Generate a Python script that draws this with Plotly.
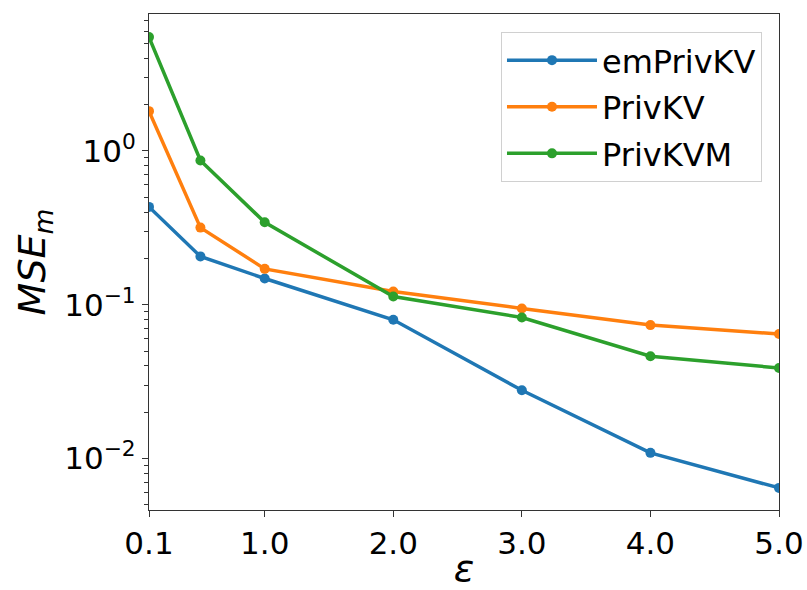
import plotly.graph_objects as go

eps = [0.1, 0.5, 1.0, 2.0, 3.0, 4.0, 5.0]
em_privkv = [0.432, 0.206, 0.148, 0.0798, 0.0278, 0.0109, 0.00645]
privkv = [1.81, 0.317, 0.171, 0.122, 0.0946, 0.0737, 0.0645]
privkvm = [5.48, 0.865, 0.343, 0.113, 0.0826, 0.0463, 0.0388]

x_ticks = [0.1, 1.0, 2.0, 3.0, 4.0, 5.0]
x_ticktext = ["0.1", "1.0", "2.0", "3.0", "4.0", "5.0"]
y_ticks = [1, 0.1, 0.01]
y_ticktext = ["10<sup>0</sup>", "10<sup>−1</sup>", "10<sup>−2</sup>"]
y_minor = [m * 10.0 ** k for k in (-3, -2, -1, 0) for m in range(2, 10)]

series = [
    ("emPrivKV", em_privkv, "#1f77b4"),
    ("PrivKV", privkv, "#ff7f0e"),
    ("PrivKVM", privkvm, "#2ca02c"),
]

fig = go.Figure()
for name, vals, col in series:
    fig.add_trace(go.Scatter(
        x=eps, y=vals, name=name, mode="lines+markers", legendgroup=name,
        line=dict(color=col, width=3.5),
        marker=dict(color=col, size=10),
    ))

font = "DejaVu Sans"
fig.update_layout(
    width=807, height=590,
    margin=dict(l=149, r=28, t=14, b=80),
    paper_bgcolor="white", plot_bgcolor="white",
    font=dict(family=font, size=31, color="black"),
    showlegend=True,
    legend=dict(
        x=0.973, y=0.964, xanchor="right", yanchor="top",
        bgcolor="rgba(255,255,255,0.8)", bordercolor="#d0d0d0", borderwidth=1,
        font=dict(family=font, size=32), tracegroupgap=2, itemwidth=90,
    ),
    xaxis=dict(
        range=[0.1, 5.0], tickvals=x_ticks, ticktext=x_ticktext,
        showgrid=False, zeroline=False, automargin=False,
        showline=True, linecolor="#333", linewidth=1.2, mirror=True,
        ticks="outside", ticklen=6, tickcolor="#333",
        title=dict(text="<i>ε</i>", font=dict(family=font, size=38), standoff=12),
    ),
    yaxis=dict(
        type="log", range=[-2.334, 0.889],
        tickvals=y_ticks, ticktext=y_ticktext,
        showgrid=False, zeroline=False, automargin=False,
        showline=True, linecolor="#333", linewidth=1.2, mirror=True,
        ticks="outside", ticklen=6, tickcolor="#333",
        minor=dict(tickmode="array", tickvals=y_minor, ticks="outside",
                   ticklen=3.5, tickcolor="#333", showgrid=False),
        title=dict(text="<i>MSE<sub>m</sub></i>", font=dict(family=font, size=38), standoff=6),
    ),
)

fig.write_html("out.html")
